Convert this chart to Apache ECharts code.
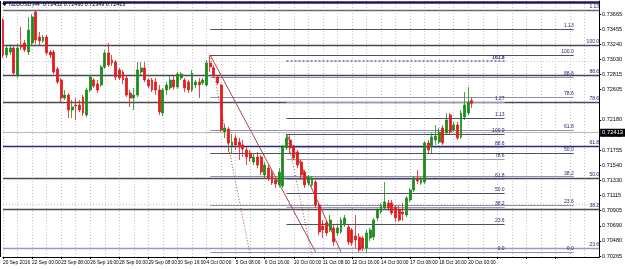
<!DOCTYPE html>
<html><head><meta charset="utf-8">
<script src="https://cdn.jsdelivr.net/npm/echarts@6/dist/echarts.min.js"></script>
<style>html,body{margin:0;padding:0;background:#fff}#c{width:625px;height:269px}</style>
</head><body><div id="c"></div>
<script>
// ---------- data ----------
const xLabels = ['20 Sep 2016','22 Sep 00:00','23 Sep 08:00','26 Sep 16:00','28 Sep 00:00','29 Sep 08:00','30 Sep 16:00','4 Oct 00:00','5 Oct 08:00','6 Oct 16:00','10 Oct 00:00','11 Oct 08:00','12 Oct 16:00','14 Oct 00:00','17 Oct 08:00','18 Oct 16:00','20 Oct 00:00'];
const priceTicks = [0.73665,0.73455,0.73240,0.73030,0.72815,0.72605,0.72180,0.71965,0.71755,0.71540,0.71330,0.71115,0.70905,0.70690,0.70480,0.70265];
const gridPrices = [0.73665,0.73455,0.73240,0.73030,0.72815,0.72605,0.72390,0.72180,0.71965,0.71755,0.71540,0.71330,0.71115,0.70905,0.70690,0.70480,0.70265];
const opens  = [0.73584,0.73092,0.73134,0.73191,0.72811,0.73233,0.73261,0.73134,0.73261,0.73696,0.73345,0.73289,0.73345,0.73134,0.73134,0.72896,0.72741,0.72488,0.72530,0.72320,0.72390,0.72390,0.72502,0.72249,0.72601,0.72741,0.72685,0.72671,0.72924,0.73120,0.73022,0.72994,0.72882,0.72853,0.72769,0.72558,0.72488,0.72530,0.72853,0.72910,0.72741,0.72741,0.72713,0.72601,0.72277,0.72601,0.72629,0.72741,0.72643,0.72769,0.72741,0.72713,0.72601,0.72671,0.72713,0.72699,0.72671,0.72980,0.72910,0.72783,0.72671,0.72011,0.72053,0.71814,0.71926,0.71870,0.71828,0.71758,0.71715,0.71589,0.71659,0.71659,0.71406,0.71505,0.71434,0.71336,0.71266,0.71252,0.71786,0.71898,0.71800,0.71729,0.71589,0.71448,0.71294,0.71266,0.71308,0.70985,0.70690,0.70732,0.70634,0.70662,0.70591,0.70605,0.70704,0.70676,0.70634,0.70549,0.70535,0.70521,0.70381,0.70521,0.70535,0.70802,0.70887,0.70943,0.71013,0.71013,0.70957,0.70915,0.70887,0.70844,0.71055,0.71196,0.71364,0.71294,0.71308,0.71856,0.71800,0.71898,0.71870,0.72067,0.71997,0.72249,0.72039,0.72109,0.71940,0.72221,0.72277,0.72452];
const closes = [0.73092,0.73191,0.73191,0.72839,0.73191,0.73205,0.73163,0.73443,0.73626,0.73303,0.73289,0.73345,0.73120,0.73092,0.72853,0.72713,0.72488,0.72530,0.72320,0.72362,0.72376,0.72320,0.72277,0.72601,0.72783,0.72657,0.72601,0.72924,0.73120,0.72952,0.72980,0.72783,0.72769,0.72741,0.72530,0.72488,0.72530,0.72882,0.72910,0.72741,0.72657,0.72601,0.72601,0.72291,0.72601,0.72671,0.72741,0.72643,0.72825,0.72825,0.72629,0.72601,0.72839,0.72713,0.72671,0.72741,0.72980,0.72924,0.72811,0.72699,0.72039,0.72067,0.71856,0.71870,0.71828,0.71800,0.71772,0.71659,0.71645,0.71659,0.71547,0.71448,0.71547,0.71364,0.71294,0.71280,0.71448,0.71800,0.71926,0.71786,0.71645,0.71547,0.71406,0.71266,0.71378,0.71364,0.70985,0.70605,0.70634,0.70591,0.70774,0.70465,0.70662,0.70774,0.70802,0.70465,0.70451,0.70493,0.70353,0.70381,0.70591,0.70634,0.70774,0.70915,0.70971,0.71027,0.70943,0.70872,0.70802,0.70774,0.70858,0.71083,0.71196,0.71364,0.71322,0.71336,0.71856,0.71758,0.71940,0.71954,0.72011,0.71856,0.72179,0.72011,0.72109,0.71926,0.72277,0.72390,0.72432,0.72413];
const highs  = [0.73612,0.73233,0.73247,0.73219,0.73247,0.73486,0.73303,0.73626,0.73668,0.73724,0.73415,0.73373,0.73373,0.73163,0.73163,0.72924,0.72769,0.72601,0.72558,0.72460,0.72488,0.72460,0.72530,0.72629,0.72811,0.72769,0.72741,0.72952,0.73163,0.73261,0.73092,0.73022,0.72910,0.72882,0.72797,0.72601,0.72629,0.72994,0.72994,0.72994,0.72769,0.72769,0.72769,0.72671,0.72629,0.72713,0.72811,0.72811,0.72853,0.72853,0.72769,0.72741,0.72882,0.72741,0.72769,0.72769,0.73022,0.73092,0.72952,0.72811,0.72685,0.72123,0.72081,0.71983,0.71968,0.71926,0.71898,0.71800,0.71758,0.71701,0.71729,0.71687,0.71589,0.71547,0.71477,0.71364,0.71505,0.71828,0.71983,0.71968,0.71828,0.71758,0.71617,0.71477,0.71406,0.71392,0.71336,0.71013,0.70774,0.70774,0.70844,0.70704,0.70718,0.70816,0.70844,0.70718,0.70662,0.70844,0.70591,0.70549,0.70634,0.70662,0.70802,0.70943,0.71013,0.71308,0.71055,0.71055,0.70985,0.70971,0.71013,0.71111,0.71224,0.71392,0.71477,0.71378,0.71884,0.71898,0.71997,0.72109,0.72067,0.72109,0.72277,0.72277,0.72151,0.72151,0.72320,0.72572,0.72643,0.72490];
const lows   = [0.73050,0.73050,0.73092,0.72797,0.72769,0.73163,0.73134,0.73092,0.73233,0.73247,0.73233,0.73261,0.73092,0.73050,0.72825,0.72685,0.72432,0.72460,0.72207,0.72207,0.72179,0.72291,0.72235,0.72221,0.72572,0.72629,0.72558,0.72643,0.72896,0.72924,0.72938,0.72741,0.72741,0.72685,0.72502,0.72362,0.72320,0.72502,0.72811,0.72713,0.72629,0.72572,0.72530,0.72249,0.72235,0.72530,0.72601,0.72601,0.72615,0.72741,0.72572,0.72558,0.72572,0.72629,0.72488,0.72671,0.72643,0.72853,0.72769,0.72671,0.72011,0.71926,0.71729,0.71715,0.71758,0.71617,0.71659,0.71547,0.71589,0.71547,0.71505,0.71406,0.71364,0.71322,0.71266,0.71224,0.71238,0.71224,0.71758,0.71715,0.71617,0.71505,0.71364,0.71224,0.71252,0.71238,0.70943,0.70563,0.70521,0.70549,0.70605,0.70409,0.70549,0.70577,0.70676,0.70423,0.70409,0.70381,0.70325,0.70339,0.70325,0.70479,0.70493,0.70760,0.70858,0.70915,0.70901,0.70844,0.70746,0.70746,0.70760,0.70816,0.71027,0.71167,0.71280,0.71266,0.71280,0.71715,0.71715,0.71828,0.71842,0.71828,0.71968,0.71983,0.72011,0.71898,0.71912,0.72179,0.72249,0.72349];
const lastPrice = 0.72413;
const headerText = 'NZDUSD,H4  0.72452 0.72490 0.72349 0.72413';
// Fibonacci objects: anchor prices (100% and 0%), bar span, level captions
const fibRatios = [1.618, 1.27, 1.13, 1.0, 0.886, 0.786, 0.618, 0.5, 0.382, 0.236, 0.0];
const fibCaptions = ['161.8','1.27','1.13','100.0','88.6','78.6','61.8','50.0','38.2','23.6','0.0'];
const fibAAnchors = [0.73233, 0.69500]; const fibASpan = [0, 164];
const fibBAnchors = [0.73092, 0.70325]; const fibBSpan = [57, 157];
const fibCAnchors = [0.71983, 0.70325]; const fibCSpan = [78, 138];
const fibALevels = ['1.13','100.0','88.6','78.6','61.8','50.0','38.2','23.6'];
const fibBLevels = ['1.13','100.0','88.6','78.6','61.8','50.0','38.2','23.6','0.0'];
const fibCLevels = ['161.8','1.27','1.13','100.0','88.6','78.6','61.8','50.0','38.2','23.6','0.0'];
const topLinePrice = 0.73839;
// diagonal anchor lines [barIndex, price]
const diagSolid = [[[56.5,0.73092],[85.5,0.70325]], [[78,0.71983],[93,0.70325]]];
const diagDotted = [[[56.5,0.73092],[68,0.70282]], [[78,0.71983],[85,0.70282]]];

// ---------- chart ----------
const SLOTS = 165;
const cats = Array.from({length: SLOTS}, (_, i) => 'b' + i);
const candles = opens.map((o, i) => [o, closes[i], lows[i], highs[i]]);
const FONT = "'Liberation Sans Narrow', 'Liberation Sans', Arial, sans-serif";

function fibLines(anchors, span, captions, style) {
  const [p100, p0] = anchors;
  return captions.map(cap => {
    const r = fibRatios[fibCaptions.indexOf(cap)];
    const p = p0 + r * (p100 - p0);
    const st = style(cap);
    return [
      { coord: [span[0], p], lineStyle: st.line,
        label: { show: true, formatter: cap, position: 'insideEndTop', distance: [0, 1],
                 fontSize: 5, fontFamily: FONT, color: '#20206e', fontWeight: st.bold ? 'bold' : 'normal' } },
      { coord: [span[1], p] }
    ];
  });
}

const styleA = cap => ({ line: { color: cap === '61.8' ? '#2a2a80' : (cap === '23.6' ? '#9a9ac0' : (cap === '1.13' ? '#6a6a78' : '#484858')), width: 1.3, type: 'solid' } });
const styleB = cap => ({ line: { color: (cap === '100.0' || cap === '50.0' || cap === '1.13') ? '#505064' : '#9090aa', width: 1, type: 'solid' } });
const styleC = cap => cap === '161.8'
  ? { line: { color: '#8a8ab2', width: 2, type: 'dotted' }, bold: true }
  : { line: { color: (cap === '100.0' || cap === '1.13' || cap === '50.0' || cap === '23.6') ? '#505064' : '#9a9ab8', width: 1, type: 'solid' } };

function helper(name, mlData, z) {
  return { name, type: 'line', data: [], z, silent: true, symbol: 'none',
           markLine: { silent: true, symbol: ['none', 'none'], animation: false, data: mlData } };
}

const gridML = gridPrices.map(p => ({ yAxis: p, lineStyle: { color: '#c4c4c4', type: [1, 2], width: 1 }, label: { show: false } }));
const diagML = diagSolid.map(d => [{ coord: d[0], lineStyle: { color: '#a84a4a', width: 1, type: 'solid' }, label: { show: false } }, { coord: d[1] }])
  .concat(diagDotted.map(d => [{ coord: d[0], lineStyle: { color: '#a84a4a', width: 1, type: [1, 2] }, label: { show: false } }, { coord: d[1] }]));
const topML = [[{ coord: [0, topLinePrice], lineStyle: { color: '#1c1c5c', width: 2.5, type: 'solid' }, label: { show: false } }, { coord: [164, topLinePrice] }]];
const bidML = [{ yAxis: lastPrice, lineStyle: { color: '#b8b8b8', width: 1, type: 'solid' },
  label: { show: true, position: 'end', formatter: lastPrice.toFixed(5), backgroundColor: '#000', color: '#fff',
           fontSize: 5.8, fontFamily: FONT, padding: [1, 3, 1, 2], distance: 1 } }];

const chart = echarts.init(document.getElementById('c'), null, { renderer: 'canvas' });
chart.setOption({
  animation: false,
  backgroundColor: '#fff',
  grid: { left: 2, right: 21, top: 1, bottom: 12, containLabel: false },
  xAxis: {
    type: 'category', data: cats, boundaryGap: false,
    axisLine: { show: true, lineStyle: { color: '#000', width: 1 } },
    axisTick: { show: true, interval: 7, length: 2, lineStyle: { color: '#000' } },
    axisLabel: { interval: 7, showMinLabel: true, showMaxLabel: false, hideOverlap: false, align: 'left', margin: 3, fontSize: 4.8, fontFamily: FONT, color: '#000',
                 formatter: (v, i) => (i % 8 === 0 && xLabels[i / 8]) ? xLabels[i / 8] : '' },
    splitLine: { show: true, interval: 3, lineStyle: { color: '#c4c4c4', type: [1, 2], width: 1 } }
  },
  yAxis: {
    type: 'value', position: 'right', min: 0.70254, max: 0.73851, scale: true,
    axisLine: { show: true, lineStyle: { color: '#000', width: 1 } },
    axisTick: { show: true, length: 2, customValues: priceTicks, lineStyle: { color: '#000' } },
    axisLabel: { customValues: priceTicks, formatter: v => v.toFixed(5), fontSize: 5.5, fontFamily: FONT, color: '#000', margin: 3 },
    splitLine: { show: false }
  },
  graphic: [
    { type: 'line', shape: { x1: 0.5, y1: 1, x2: 0.5, y2: 257 }, style: { stroke: '#000', lineWidth: 1 }, z: 100 },
    { type: 'polygon', shape: { points: [[2, 3], [7, 3], [4.5, 6]] }, style: { fill: '#000' }, z: 100 },
    { type: 'text', left: 9, top: 2, style: { text: headerText, fontSize: 5.4, fontFamily: FONT, fill: '#000' }, z: 100 }
  ],
  series: [
    helper('grid', gridML, 1),
    helper('fibA', fibLines(fibAAnchors, fibASpan, fibALevels, styleA), 2),
    helper('fibB', fibLines(fibBAnchors, fibBSpan, fibBLevels, styleB), 2),
    helper('fibC', fibLines(fibCAnchors, fibCSpan, fibCLevels, styleC), 2),
    helper('top', topML, 2),
    helper('diag', diagML, 3),
    {
      name: 'NZDUSD', type: 'candlestick', data: candles, barWidth: 2.4, z: 5,
      itemStyle: { color: '#1c8c1c', color0: '#e21c1c', borderColor: '#1c8c1c', borderColor0: '#e21c1c', borderWidth: 0.8 },
      markLine: { silent: true, symbol: ['none', 'none'], animation: false, data: bidML }
    }
  ]
});
</script>
</body></html>
